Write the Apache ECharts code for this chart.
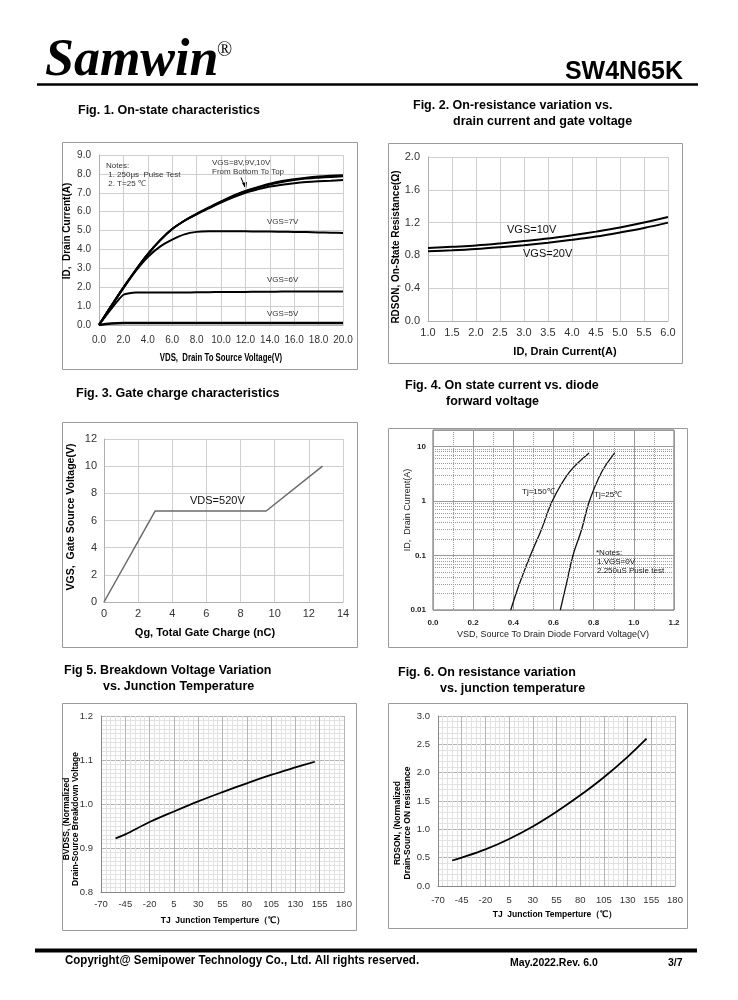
<!DOCTYPE html>
<html><head><meta charset="utf-8">
<script src="https://cdn.jsdelivr.net/npm/echarts@6/dist/echarts.min.js"></script>
<style>html,body{margin:0;padding:0;background:#fff}#c{width:738px;height:1000px}</style>
</head><body><div id="c"></div>
<script>
// ---------- Fig.1 On-state characteristics ----------
const vds = [0,1,2,3,4,5,6,7,8,9,10,11,12,13,14,15,16,17,18,19,20];
const idVgs10 = [0,1.0,1.98,2.9,3.75,4.48,5.08,5.52,5.88,6.22,6.54,6.85,7.1,7.3,7.48,7.62,7.72,7.8,7.86,7.9,7.93];
const idVgs9  = [0,1.0,1.98,2.9,3.75,4.48,5.08,5.52,5.88,6.2,6.52,6.82,7.07,7.27,7.44,7.57,7.67,7.75,7.8,7.84,7.87];
const idVgs8  = [0,1.0,1.98,2.9,3.75,4.48,5.08,5.52,5.86,6.17,6.48,6.76,7.0,7.18,7.33,7.43,7.51,7.57,7.61,7.64,7.67];
const idVgs7  = [0,1.0,1.95,2.85,3.6,4.15,4.52,4.8,4.93,4.96,4.96,4.96,4.96,4.95,4.95,4.94,4.93,4.92,4.9,4.89,4.87];
const idVgs6  = [0,0.85,1.6,1.72,1.72,1.72,1.72,1.72,1.73,1.74,1.75,1.75,1.75,1.76,1.76,1.77,1.77,1.77,1.78,1.78,1.78];
const idVgs5  = [0,0.08,0.1,0.1,0.1,0.1,0.1,0.1,0.1,0.1,0.1,0.1,0.1,0.1,0.1,0.1,0.1,0.1,0.1,0.1,0.1];
// ---------- Fig.2 On-resistance vs drain current ----------
const id2 = [1.0,1.5,2.0,2.5,3.0,3.5,4.0,4.5,5.0,5.5,6.0];
const rdsVgs10 = [0.89,0.905,0.92,0.945,0.975,1.005,1.045,1.09,1.14,1.2,1.268];
const rdsVgs20 = [0.85,0.862,0.878,0.9,0.925,0.955,0.99,1.03,1.08,1.135,1.2];
// ---------- Fig.3 Gate charge ----------
const qg = [0,3,9.5,12.8];
const vgsQg = [0,6.7,6.7,10];
// ---------- Fig.4 Diode forward ----------
const vsdTj150 = [0.387,0.43,0.485,0.54,0.594,0.68,0.777];
const idTj150  = [0.01,0.03,0.1,0.3,1,3.4,7.6];
const vsdTj25  = [0.634,0.664,0.697,0.74,0.779,0.84,0.905];
const idTj25   = [0.01,0.03,0.1,0.3,1,3.4,7.6];
const logMinor = [0.02,0.03,0.04,0.05,0.06,0.07,0.08,0.09,0.2,0.3,0.4,0.5,0.6,0.7,0.8,0.9,2,3,4,5,6,7,8,9];
// ---------- Fig.5 / Fig.6 vs temperature ----------
const tj = [-55,-45,-20,5,30,55,80,105,130,150];
const bvdssNorm = [0.922,0.931,0.959,0.983,1.006,1.027,1.047,1.066,1.083,1.096];
const rdsonNorm = [0.45,0.5,0.645,0.83,1.05,1.31,1.6,1.92,2.28,2.6];

const zip = (a,b) => a.map((v,i)=>[v,b[i]]);
const NARROW = '"Liberation Sans Narrow","Arial Narrow","Liberation Sans",Arial,sans-serif';
const ARIAL = '"Liberation Sans",Arial,sans-serif';

function vAxis(idx, o){
  return Object.assign({
    type:'value', gridIndex:idx,
    axisLine:{show:true, onZero:false, lineStyle:{color:'#b0b0b0'}},
    axisTick:{show:false},
    axisLabel:{color:'#333', fontSize:10, fontFamily:ARIAL},
    splitLine:{show:true, lineStyle:{color:'#cfcfcf', width:1}}
  }, o);
}
const fx1 = v => v.toFixed(1);

const chart = echarts.init(document.getElementById('c'));

const grids = [
  {left:99, top:155, width:244, height:170},
  {left:428, top:157, width:240, height:164},
  {left:104, top:439, width:239, height:163},
  {left:433, top:430, width:241, height:180, show:true, borderColor:'#666', borderWidth:1},
  {left:101, top:716, width:243, height:176},
  {left:438, top:716, width:237, height:170}
];

const xAxis = [
  vAxis(0,{min:0,max:20,interval:2,axisLabel:{color:'#333',fontSize:10,fontFamily:NARROW,margin:10,formatter:fx1}}),
  vAxis(1,{min:1,max:6,interval:0.5,axisLabel:{color:'#333',fontSize:11,fontFamily:ARIAL,margin:6,formatter:fx1}}),
  vAxis(2,{min:0,max:14,interval:2,axisLabel:{color:'#333',fontSize:11,fontFamily:ARIAL,margin:6}}),
  vAxis(3,{min:0,max:1.2,interval:0.2,axisLine:{show:false},
    axisLabel:{color:'#222',fontSize:8,fontWeight:'bold',fontFamily:ARIAL,margin:9,formatter:fx1},
    splitLine:{show:true,lineStyle:{color:'#999',width:1}},
    minorTick:{show:false,splitNumber:2},
    minorSplitLine:{show:true,lineStyle:{color:'#999',type:'dotted',width:1}}}),
  vAxis(4,{min:-70,max:180,interval:25,axisLine:{show:true,onZero:false,lineStyle:{color:'#888'}},
    axisLabel:{color:'#333',fontSize:9.5,fontFamily:NARROW,margin:7},
    splitLine:{show:true,lineStyle:{color:'#b5b5b5'}},
    minorTick:{show:false,splitNumber:5},
    minorSplitLine:{show:true,lineStyle:{color:'#e2e2e2'}}}),
  vAxis(5,{min:-70,max:180,interval:25,axisLine:{show:true,onZero:false,lineStyle:{color:'#888'}},
    axisLabel:{color:'#333',fontSize:9.5,fontFamily:NARROW,margin:9},
    splitLine:{show:true,lineStyle:{color:'#b5b5b5'}},
    minorTick:{show:false,splitNumber:5},
    minorSplitLine:{show:true,lineStyle:{color:'#e2e2e2'}}})
];
const yAxis = [
  vAxis(0,{min:0,max:9,interval:1,axisLabel:{color:'#333',fontSize:10,fontFamily:NARROW,margin:8,formatter:fx1}}),
  vAxis(1,{min:0,max:2,interval:0.4,axisLabel:{color:'#333',fontSize:11,fontFamily:ARIAL,margin:8,formatter:fx1}}),
  vAxis(2,{min:0,max:12,interval:2,axisLabel:{color:'#333',fontSize:11,fontFamily:ARIAL,margin:7}}),
  {type:'log', gridIndex:3, min:0.01, max:20, logBase:10,
    axisLine:{show:false, onZero:false}, axisTick:{show:false},
    axisLabel:{color:'#222',fontSize:8,fontWeight:'bold',fontFamily:ARIAL,margin:7,
      formatter:v=>{const l=Math.log10(v); if(Math.abs(l-Math.round(l))>1e-6) return ''; const r=Math.round(l); return r>=0?String(Math.pow(10,r)):Math.pow(10,r).toFixed(-r);}},
    splitLine:{show:true,lineStyle:{color:'#999',width:1}}},
  vAxis(4,{min:0.8,max:1.2,interval:0.1,axisLine:{show:true,onZero:false,lineStyle:{color:'#888'}},
    axisLabel:{color:'#333',fontSize:9.5,fontFamily:NARROW,margin:8,formatter:fx1},
    splitLine:{show:true,lineStyle:{color:'#b5b5b5'}},
    minorTick:{show:false,splitNumber:10},
    minorSplitLine:{show:true,lineStyle:{color:'#e2e2e2'}}}),
  vAxis(5,{min:0,max:3,interval:0.5,axisLine:{show:true,onZero:false,lineStyle:{color:'#888'}},
    axisLabel:{color:'#333',fontSize:9.5,fontFamily:NARROW,margin:8,formatter:fx1},
    splitLine:{show:true,lineStyle:{color:'#b5b5b5'}},
    minorTick:{show:false,splitNumber:5},
    minorSplitLine:{show:true,lineStyle:{color:'#e2e2e2'}}})
];

function ln(idx, data, o){
  return Object.assign({type:'line', xAxisIndex:idx, yAxisIndex:idx, data, showSymbol:false, symbol:'none',
    smooth:0.35, silent:true, animation:false,
    lineStyle:{color:'#000', width:2}}, o);
}
const series = [
  ln(0, zip(vds,idVgs5), {lineStyle:{color:'#000',width:2.5}}),
  ln(0, zip(vds,idVgs6), {smooth:0.2}),
  ln(0, zip(vds,idVgs7), {smooth:0.25}),
  ln(0, zip(vds,idVgs8)),
  ln(0, zip(vds,idVgs9)),
  ln(0, zip(vds,idVgs10)),
  ln(1, zip(id2,rdsVgs10), {lineStyle:{color:'#000',width:2}}),
  ln(1, zip(id2,rdsVgs20), {lineStyle:{color:'#000',width:2}}),
  ln(2, zip(qg,vgsQg), {smooth:false, lineStyle:{color:'#6a6a6a',width:1.5}}),
  ln(3, zip(vsdTj150,idTj150), {lineStyle:{color:'#111',width:1.3},
    markLine:{silent:true, symbol:'none', label:{show:false}, animation:false,
      lineStyle:{color:'#999',type:'dotted',width:1},
      data: logMinor.map(v=>({yAxis:v}))}}),
  ln(3, zip(vsdTj25,idTj25), {lineStyle:{color:'#111',width:1.3}}),
  ln(4, zip(tj,bvdssNorm), {lineStyle:{color:'#000',width:1.8}}),
  ln(5, zip(tj,rdsonNorm), {lineStyle:{color:'#000',width:1.8}})
];

function T(text, x, y, o){
  const s = Object.assign({text, fill:'#000', fontSize:12, fontFamily:ARIAL, fontWeight:'normal',
    align:'left', verticalAlign:'middle'}, o||{});
  s.textAlign = s.align; s.textVerticalAlign = s.verticalAlign;
  const el = {type:'text', x, y, style:s, silent:true, z:10};
  if (o && o.rotation !== undefined){ el.rotation = o.rotation; delete s.rotation; }
  if (o && o.scaleX !== undefined){ el.scaleX = o.scaleX; delete s.scaleX; }
  return el;
}
const R = (x,y,w,h,stroke) => ({type:'rect', shape:{x,y,width:w,height:h}, style:{fill:'none', stroke:stroke||'#9a9a9a', lineWidth:1}, silent:true, z:1});
const L = (x1,y1,x2,y2,w) => ({type:'line', shape:{x1,y1,x2,y2}, style:{stroke:'#000', lineWidth:w}, silent:true});
const UP = Math.PI/2;
const TB = {fontWeight:'bold', fontSize:12.5};

const graphic = [
  // header / footer
  T('Samwin', 45, 62, {fontSize:52, fontWeight:'bold', fontStyle:'italic', fontFamily:'"Liberation Serif","Times New Roman",serif'}),
  T('®', 217, 51, {fontSize:20, fontFamily:'"Liberation Serif","Times New Roman",serif'}),
  T('SW4N65K', 683, 72, {fontSize:25, fontWeight:'bold', align:'right'}),
  L(37, 84.5, 698, 84.5, 2.5),
  L(35, 950.5, 697, 950.5, 4),
  T('Copyright@ Semipower Technology Co., Ltd. All rights reserved.', 65, 961, {fontSize:12, fontWeight:'bold', scaleX:0.96}),
  T('May.2022.Rev. 6.0', 510, 963, {fontSize:10.5, fontWeight:'bold'}),
  T('3/7', 668, 963, {fontSize:10.5, fontWeight:'bold'}),
  // figure titles
  T('Fig. 1. On-state characteristics', 78, 111, TB),
  T('Fig. 2. On-resistance variation vs.', 413, 106, TB),
  T('drain current and gate voltage', 453, 122, TB),
  T('Fig. 3. Gate charge characteristics', 76, 394, TB),
  T('Fig. 4. On state current vs. diode', 405, 386, TB),
  T('forward voltage', 446, 402, TB),
  T('Fig 5. Breakdown Voltage Variation', 64, 671, TB),
  T('vs. Junction Temperature', 103, 687, TB),
  T('Fig. 6. On resistance variation', 398, 673, TB),
  T('vs. junction temperature', 440, 689, TB),
  // frames
  R(62.5,142.5,295,227), R(388.5,143.5,294,220), R(62.5,422.5,295,225),
  R(388.5,428.5,299,219), R(62.5,703.5,294,227), R(388.5,703.5,299,225),
  // Fig1 texts
  T('ID,  Drain Current(A)', 67, 231, {rotation:UP, align:'center', fontSize:10, fontWeight:'bold', fontFamily:NARROW}),
  T('VDS,  Drain To Source Voltage(V)', 221, 358, {align:'center', fontSize:10, fontWeight:'bold', fontFamily:NARROW, scaleX:0.78}),
  T('Notes:', 106, 166, {fontSize:8, fill:'#333', fontFamily:NARROW}),
  T(' 1. 250\u03bcs  Pulse Test', 106, 175, {fontSize:8, fill:'#333', fontFamily:NARROW}),
  T(' 2. T=25 \u2103', 106, 184, {fontSize:8, fill:'#333', fontFamily:NARROW}),
  T('VGS=8V,9V,10V', 212, 163, {fontSize:8, fill:'#333', fontFamily:NARROW}),
  T('From Bottom To Top', 212, 172, {fontSize:8, fill:'#333', fontFamily:NARROW}),
  L(241, 177.5, 245, 187, 1),
  {type:'polygon', shape:{points:[[242,183],[247,182],[246,189]]}, style:{fill:'#000'}, silent:true},
  T('VGS=7V', 267, 222, {fontSize:8, fill:'#333', fontFamily:NARROW}),
  T('VGS=6V', 267, 280, {fontSize:8, fill:'#333', fontFamily:NARROW}),
  T('VGS=5V', 267, 314, {fontSize:8, fill:'#333', fontFamily:NARROW}),
  // Fig2 texts
  T('RDSON, On-State Resistance(\u03a9)', 396, 247, {rotation:UP, align:'center', fontSize:10.5, fontWeight:'bold', scaleX:0.95}),
  T('ID, Drain Current(A)', 565, 352, {align:'center', fontSize:11, fontWeight:'bold'}),
  T('VGS=10V', 507, 230, {fontSize:11, fill:'#111'}),
  T('VGS=20V', 523, 254, {fontSize:11, fill:'#111'}),
  // Fig3 texts
  T('VGS,  Gate Source Voltage(V)', 71, 517, {rotation:UP, align:'center', fontSize:10.5, fontWeight:'bold'}),
  T('Qg, Total Gate Charge (nC)', 205, 633, {align:'center', fontSize:11, fontWeight:'bold'}),
  T('VDS=520V', 190, 501, {fontSize:11, fill:'#111'}),
  // Fig4 texts
  T('ID,  Drain Current(A)', 408, 510, {rotation:UP, align:'center', fontSize:9, fill:'#222'}),
  T('VSD, Source To Drain Diode Forvard Voltage(V)', 553, 635, {align:'center', fontSize:9, fill:'#222'}),
  T('Tj=150\u2103', 522, 492, {fontSize:8, fill:'#111'}),
  T('Tj=25\u2103', 594, 495, {fontSize:8, fill:'#111'}),
  T('*Notes:', 596, 553, {fontSize:8, fill:'#111'}),
  T('1.VGS=0V', 597, 562, {fontSize:8, fill:'#111'}),
  T('2.250uS Pusle test', 597, 571, {fontSize:8, fill:'#111'}),
  // Fig5 texts
  T('BVDSS, (Normalized\nDrain-Source Breakdown Voltage', 71, 819, {rotation:UP, align:'center', fontSize:8.5, fontWeight:'bold', lineHeight:9}),
  T('TJ  Junction Temperture\uff08\u2103\uff09', 223, 921, {align:'center', fontSize:8.5, fontWeight:'bold', fontFamily:NARROW}),
  // Fig6 texts
  T('RDSON, (Normalized\nDrain-Source ON resistance', 403, 823, {rotation:UP, align:'center', fontSize:8.5, fontWeight:'bold', lineHeight:10}),
  T('TJ  Junction Temperture\uff08\u2103\uff09', 555, 915, {align:'center', fontSize:8.5, fontWeight:'bold', fontFamily:NARROW})
];

chart.setOption({animation:false, grid:grids, xAxis, yAxis, series, graphic});
</script></body></html>
